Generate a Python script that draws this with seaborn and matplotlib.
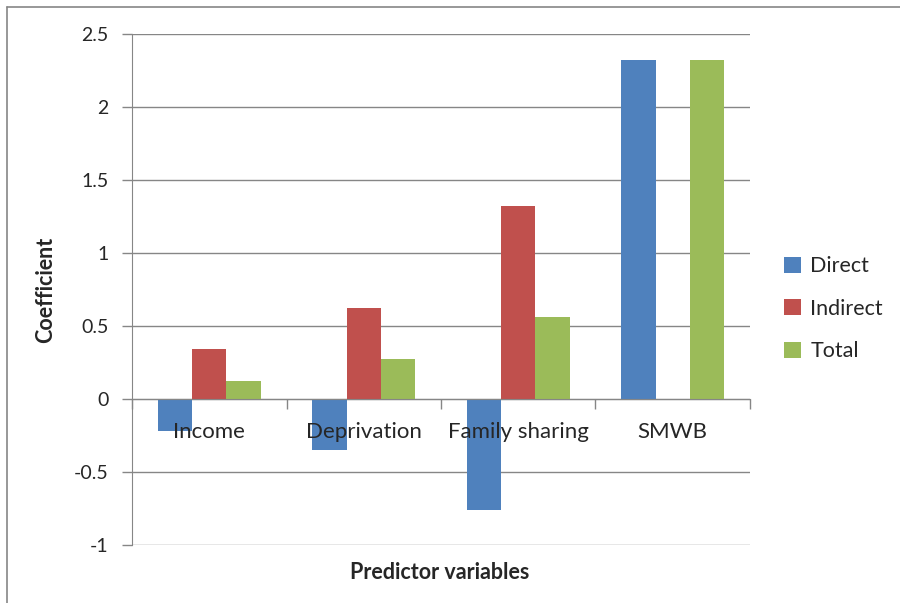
import pandas as pd
import seaborn as sns
import matplotlib.pyplot as plt
from matplotlib.lines import Line2D
from matplotlib.patches import Patch

# values
categories = ['Income', 'Deprivation', 'Family sharing', 'SMWB']
direct = [-0.22, -0.35, -0.76, 2.32]
indirect = [0.34, 0.62, 1.32, 0.0]
total = [0.12, 0.27, 0.56, 2.32]
series = ['Direct', 'Indirect', 'Total']
colors = ['#4F81BD', '#C0504D', '#9BBB59']
y_ticks = [-1, -0.5, 0, 0.5, 1, 1.5, 2, 2.5]
y_ticklabels = ['-1', '-0.5', '0', '0.5', '1', '1.5', '2', '2.5']

df = pd.DataFrame({
    'variable': categories * 3,
    'type': ['Direct'] * 4 + ['Indirect'] * 4 + ['Total'] * 4,
    'coef': direct + indirect + total,
})

sns.set_style('white')
plt.rcParams['font.family'] = ['Lato', 'DejaVu Sans']

fig = plt.figure(figsize=(9, 6.03), dpi=100)
ax = fig.add_axes([0.1467, 0.0962, 0.8333 - 0.1467, 0.9444 - 0.0962])

sns.barplot(data=df, x='variable', y='coef', hue='type', hue_order=series,
            palette=colors, width=0.666, gap=0, saturation=1,
            edgecolor='none', linewidth=0, legend=False, ax=ax)

grey = '#868686'
ax.set_ylim(-1, 2.5)
ax.set_xlim(-0.5, 3.5)
ax.set_yticks(y_ticks)
ax.set_yticklabels(y_ticklabels, fontsize=14)
for y in y_ticks:
    ax.axhline(y, color=grey, lw=1, zorder=0)
ax.tick_params(axis='y', length=7, width=1, color=grey, pad=10, left=True)

# category axis sits on zero, ticks at group boundaries
ax.spines['bottom'].set_position(('data', 0))
ax.spines['bottom'].set_color(grey)
ax.spines['left'].set_color(grey)
ax.spines['top'].set_visible(False)
ax.spines['right'].set_visible(False)
ax.set_xticks([-0.5, 0.5, 1.5, 2.5, 3.5])
ax.set_xticklabels([])
ax.tick_params(axis='x', which='major', length=7, width=1, color=grey, bottom=True)
ax.set_xlabel('')
ax.set_ylabel('')

# category names drawn over the bars, just below the zero line
for i, name in enumerate(categories):
    ax.text(i, -0.225, name, fontsize=16, ha='center', va='center', zorder=10)

fig.text(0.051, 0.52, 'Coefficient', rotation=90, fontsize=15.5,
         fontweight='bold', ha='center', va='center')
fig.text(0.489, 0.05, 'Predictor variables', fontsize=15.5,
         fontweight='bold', ha='center', va='center')

handles = [Patch(facecolor=c, edgecolor='none') for c in colors]
fig.legend(handles, series, loc='center left', bbox_to_anchor=(0.85, 0.488),
           frameon=False, fontsize=15.5, handlelength=0.75, handleheight=0.75,
           handletextpad=0.45, labelspacing=1.05)

# outer chart border (left and top edges visible)
fig.add_artist(Line2D([0.008, 0.008], [0, 0.989], color=grey, lw=1.2,
                      transform=fig.transFigure))
fig.add_artist(Line2D([0.008, 1], [0.989, 0.989], color=grey, lw=1.2,
                      transform=fig.transFigure))

fig.savefig('out.png', dpi=100)
